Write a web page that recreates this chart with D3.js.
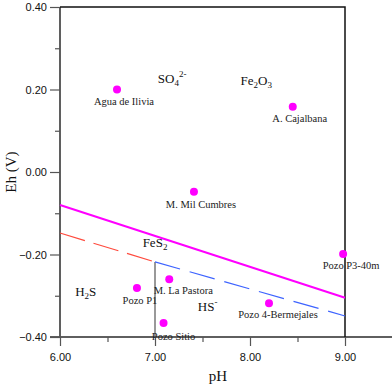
<!DOCTYPE html>
<html>
<head>
<meta charset="utf-8">
<script src="https://cdn.jsdelivr.net/npm/d3@7"></script>
<style>
  body { margin: 0; background: #fff; }
  .tick text { font-family: "Liberation Sans", Arial, sans-serif; font-size: 11px; fill: #111; }
  .lbl { font-family: "Liberation Serif", "Times New Roman", serif; font-size: 10.5px; fill: #222; }
  .region { font-family: "Liberation Serif", "Times New Roman", serif; font-size: 13px; fill: #111; }
  .title { font-family: "Liberation Serif", "Times New Roman", serif; font-size: 15px; fill: #111; }
</style>
</head>
<body>
<svg></svg>
<script>
// sample points
let samples = ["Agua de Ilivia", "A. Cajalbana", "M. Mil Cumbres", "Pozo P3-40m", "M. La Pastora", "Pozo P1", "Pozo Sitio", "Pozo 4-Bermejales"]
let samplePH = [6.60, 8.45, 7.41, 8.98, 7.15, 6.81, 7.09, 8.20]
let sampleEh = [0.200, 0.158, -0.048, -0.199, -0.260, -0.281, -0.366, -0.318]

// stability field boundaries
let upperPH = [6.0, 9.0], upperEh = [-0.080, -0.305]
let h2sPH = [6.0, 7.0], h2sEh = [-0.148, -0.218]
let hsPH = [7.0, 9.0], hsEh = [-0.218, -0.349]
let splitPH = [7.0, 7.0], splitEh = [-0.218, -0.40]

// species fields (label anchor in pH / Eh)
let species = ["SO4", "Fe2O3", "FeS2", "H2S", "HS"]
let speciesPH = [7.03, 7.90, 6.87, 6.16, 7.45]
let speciesEh = [0.215, 0.210, -0.183, -0.300, -0.337]

let xTicks = [6, 7, 8, 9]
let xMinor = [6.5, 7.5, 8.5, 9.5]
let yTicks = [-0.4, -0.2, 0, 0.2, 0.4]
let yMinor = [-0.3, -0.1, 0.1, 0.3]

let margin = { top: 7, left: 60 }
let x = d3.scaleLinear().domain([6, 10]).range([margin.left, margin.left + 380])
let y = d3.scaleLinear().domain([-0.4, 0.4]).range([337, 7])

let svg = d3.select('svg').attr('width', 392).attr('height', 386)

// axes
let xAxis = svg.append('g').attr('transform', 'translate(0,' + y(-0.4) + ')')
xAxis.call(d3.axisBottom(x).tickValues(xTicks).tickFormat(d3.format('.2f')).tickSize(9).tickPadding(7))
svg.append('g').attr('transform', 'translate(0,' + y(-0.4) + ')')
  .call(d3.axisBottom(x).tickValues(xMinor).tickFormat('').tickSize(5))

let yAxis = svg.append('g').attr('transform', 'translate(' + x(6) + ',0)')
yAxis.call(d3.axisLeft(y).tickValues(yTicks).tickFormat(d3.format('.2f')).tickSize(10).tickPadding(3))
svg.append('g').attr('transform', 'translate(' + x(6) + ',0)')
  .call(d3.axisLeft(y).tickValues(yMinor).tickFormat('').tickSize(5))

svg.selectAll('.domain').attr('stroke', '#555').attr('stroke-width', 1.5).attr('d', function () {
  return d3.select(this.parentNode).attr('transform').indexOf(',0)') > 0
    ? 'M0,' + y(0.4) + 'V' + y(-0.4)
    : 'M' + (x(6) - 10) + ',0H392'
})
svg.selectAll('.tick line').attr('stroke', '#555').attr('stroke-width', 1.2)

// frame top and right (pH 9)
svg.append('path')
  .attr('d', 'M' + x(6) + ',' + y(0.4) + 'H' + x(9) + 'V' + y(-0.4))
  .attr('fill', 'none').attr('stroke', '#111').attr('stroke-width', 1.5)

let line = d3.line().x(d => x(d[0])).y(d => y(d[1]))

svg.append('path').datum(d3.zip(splitPH, splitEh)).attr('d', line)
  .attr('stroke', '#555').attr('stroke-width', 1.2).attr('fill', 'none')
svg.append('path').datum(d3.zip(upperPH, upperEh)).attr('d', line)
  .attr('stroke', '#ff00ff').attr('stroke-width', 2).attr('fill', 'none')
svg.append('path').datum(d3.zip(h2sPH, h2sEh)).attr('d', line)
  .attr('stroke', '#ff4a3d').attr('stroke-width', 1.2).attr('stroke-dasharray', '26,9').attr('fill', 'none')
svg.append('path').datum(d3.zip(hsPH, hsEh)).attr('d', line)
  .attr('stroke', '#3d63ff').attr('stroke-width', 1.2).attr('stroke-dasharray', '26,10').attr('fill', 'none')

// species labels
let spec = svg.selectAll('.region').data(species).enter().append('text')
  .attr('class', 'region')
  .attr('x', (d, i) => x(speciesPH[i]))
  .attr('y', (d, i) => y(speciesEh[i]))
let subs = { Fe2O3: ['Fe', '2', 'O', '3'], FeS2: ['FeS', '2'], H2S: ['H', '2', 'S'] }
spec.each(function (d) {
  let t = d3.select(this)
  if (d === 'SO4') {
    t.append('tspan').text('SO')
    t.append('tspan').text('4').attr('font-size', 9).attr('dy', 3)
    t.append('tspan').text('2-').attr('font-size', 9).attr('dy', -9)
  } else if (d === 'HS') {
    t.append('tspan').text('HS')
    t.append('tspan').text('-').attr('font-size', 9).attr('dy', -6)
  } else {
    subs[d].forEach((s, k) => {
      let ts = t.append('tspan').text(s)
      if (k % 2 == 1) ts.attr('font-size', 9).attr('dy', 3)
      else if (k > 0) ts.attr('dy', -3)
    })
  }
})

// points
svg.selectAll('.pt').data(samples).enter().append('circle')
  .attr('class', 'pt')
  .attr('cx', (d, i) => x(samplePH[i]))
  .attr('cy', (d, i) => y(sampleEh[i]))
  .attr('r', 4)
  .attr('fill', '#ff00ff')

let offs = [[7, 15], [7, 15], [7, 16], [8, 15], [14, 15], [3, 16], [10, 17], [9, 15]]
svg.selectAll('.lbl').data(samples).enter().append('text')
  .attr('class', 'lbl')
  .attr('text-anchor', 'middle')
  .attr('x', (d, i) => x(samplePH[i]) + offs[i][0])
  .attr('y', (d, i) => y(sampleEh[i]) + offs[i][1])
  .text(d => d)

// axis titles
svg.append('text').attr('class', 'title').attr('text-anchor', 'middle')
  .attr('x', 218).attr('y', 381).text('pH')
svg.append('text').attr('class', 'title').attr('text-anchor', 'middle')
  .attr('transform', 'translate(16,172) rotate(-90)').text('Eh (V)')
</script>
</body>
</html>
